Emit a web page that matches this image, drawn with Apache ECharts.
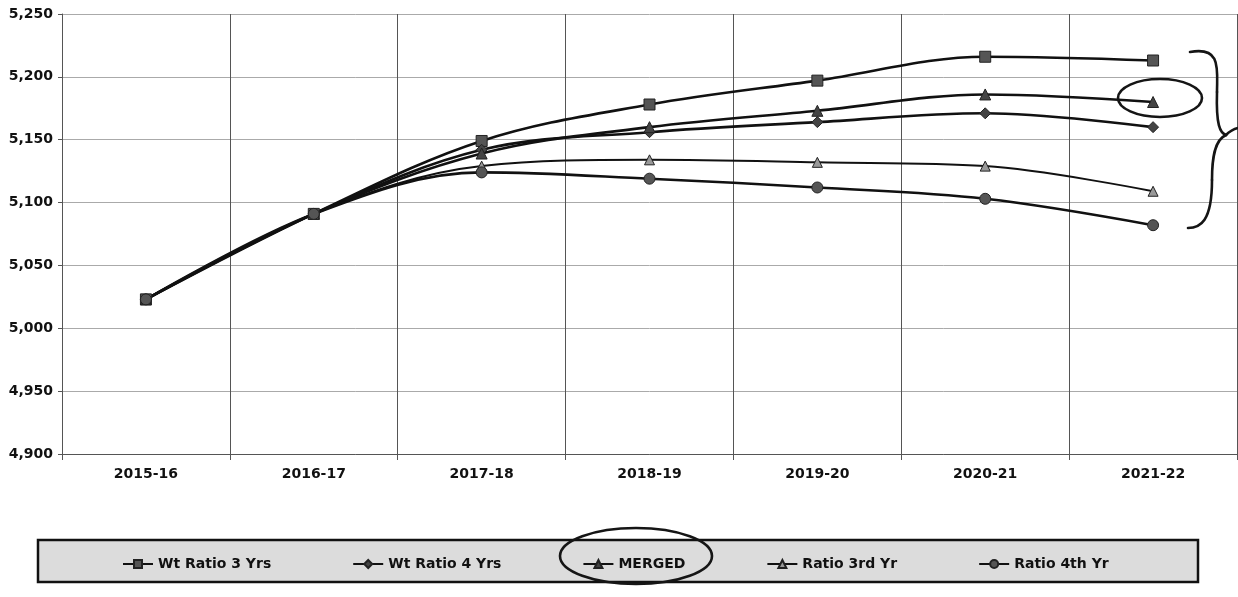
<!DOCTYPE html>
<html><head><meta charset="utf-8">
<script src="https://cdn.jsdelivr.net/npm/echarts@6/dist/echarts.min.js"></script>
<style>html,body{margin:0;padding:0;background:#fff}#c{width:1238px;height:597px}</style>
</head><body><div id="c"></div>
<script>
const categories = ['2015-16','2016-17','2017-18','2018-19','2019-20','2020-21','2021-22'];
const wtRatio3 = [5023, 5091, 5149, 5178, 5197, 5216, 5213];
const wtRatio4 = [5023, 5091, 5142, 5156, 5164, 5171, 5160];
const merged   = [5023, 5091, 5139, 5160, 5173, 5186, 5180];
const ratio3rd = [5023, 5091, 5129, 5134, 5132, 5129, 5109];
const ratio4th = [5023, 5091, 5124, 5119, 5112, 5103, 5082];
const seriesNames = ['Wt Ratio 3 Yrs','Wt Ratio 4 Yrs','MERGED','Ratio 3rd Yr','Ratio 4th Yr'];
const yMin = 4900, yMax = 5250, yStep = 50;

const font = 'DejaVu Sans, Verdana, sans-serif';
const chart = echarts.init(document.getElementById('c'));
function mk(name, data, symbol, size, fill, lw){
  return {name, type:'line', data, smooth:0.35, symbol, symbolSize:size,
    lineStyle:{color:'#111', width:lw},
    itemStyle:{color:fill, borderColor:'#222', borderWidth:1},
    emphasis:{disabled:true}, z: 3};
}
const pen = {stroke:'#151515', lineWidth:2.6, fill:null, lineCap:'round'};
function bz(x1,y1,c1x,c1y,c2x,c2y,x2,y2){
  return {type:'bezierCurve', shape:{x1,y1,cpx1:c1x,cpy1:c1y,cpx2:c2x,cpy2:c2y,x2,y2}, style:pen, z:10};
}
chart.setOption({
  animation:false,
  backgroundColor:'#fff',
  graphic:[
    {type:'rect', shape:{x:38,y:540,width:1160,height:42},
      style:{fill:'#dcdcdc', stroke:'#111', lineWidth:2.5}, z:-1},
    {type:'ellipse', shape:{cx:636, cy:556, rx:76, ry:28}, style:pen, z:10},
    {type:'ellipse', shape:{cx:1160, cy:98, rx:42, ry:19}, style:pen, z:10},
    bz(1190,52, 1222,46, 1217,70, 1217,92),
    bz(1217,92, 1216,125, 1220,133, 1226,135),
    bz(1226,135, 1214,140, 1212,160, 1212,180),
    bz(1212,180, 1212,222, 1200,228, 1188,228),
    bz(1226,135, 1230,131, 1234,129, 1238,128)
  ],
  grid:{left:62, right:1, top:14, bottom:143},
  legend:{left:117, top:552, itemGap:81, itemWidth:30, itemHeight:10,
    textStyle:{fontFamily:font, fontWeight:'bold', fontSize:14, color:'#111'},
    data:seriesNames},
  xAxis:{type:'category', data:categories, boundaryGap:true,
    axisLine:{lineStyle:{color:'#555', width:1}},
    axisTick:{show:true, length:6, lineStyle:{color:'#555'}},
    splitLine:{show:true, lineStyle:{color:'#555', width:1}},
    axisLabel:{fontFamily:font, fontWeight:'bold', fontSize:14, color:'#111', margin:13}},
  yAxis:{type:'value', min:yMin, max:yMax, interval:yStep,
    axisLine:{show:true, lineStyle:{color:'#555'}},
    axisTick:{show:true, length:4, lineStyle:{color:'#555'}},
    splitLine:{lineStyle:{color:'#aaa', width:1}},
    axisLabel:{fontFamily:font, fontWeight:'bold', fontSize:14, color:'#111', margin:9,
      formatter:v=>v.toLocaleString('en-US')}},
  series:[
    mk(seriesNames[0], wtRatio3, 'rect', 11, '#555', 2.6),
    mk(seriesNames[1], wtRatio4, 'diamond', 11, '#444', 2.6),
    mk(seriesNames[2], merged, 'triangle', 11, '#444', 2.6),
    mk(seriesNames[3], ratio3rd, 'triangle', 10, '#999', 2),
    mk(seriesNames[4], ratio4th, 'circle', 11, '#555', 2.6)
  ]
});
</script></body></html>
